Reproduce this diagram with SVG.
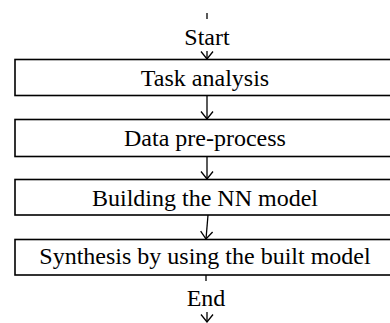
<svg xmlns="http://www.w3.org/2000/svg" width="390" height="323" viewBox="0 0 390 323">
<defs>
<style>
.box{fill:#fff;stroke:#000;stroke-width:1.6}
.lbl{font-family:"Liberation Serif","Times New Roman",serif;font-size:24px;fill:#000;text-anchor:middle}
.ln{stroke:#000;stroke-width:1.3;fill:none}
</style>
<marker id="ah" viewBox="0 0 10 14" refX="9" refY="7" markerWidth="10" markerHeight="14" markerUnits="userSpaceOnUse" orient="auto">
<path d="M1.5,1 L9,7 L1.5,13" fill="none" stroke="#000" stroke-width="1.3"/>
</marker>
</defs>
<rect width="390" height="323" fill="#fff"/>
<g id="connectors">
<line class="ln" x1="207" y1="13" x2="207" y2="19"/>
<line class="ln" x1="207" y1="51" x2="207" y2="59" marker-end="url(#ah)"/>
<line class="ln" x1="207" y1="95" x2="207" y2="119" marker-end="url(#ah)"/>
<line class="ln" x1="207" y1="157" x2="207" y2="179" marker-end="url(#ah)"/>
<line class="ln" x1="208" y1="215" x2="206" y2="239" marker-end="url(#ah)"/>
<line class="ln" x1="206" y1="275" x2="206" y2="281"/>
<line class="ln" x1="207" y1="312" x2="207" y2="322" marker-end="url(#ah)"/>
</g>
<g id="start"><text class="lbl" x="207" y="45">Start</text></g>
<g id="task"><rect class="box" x="15" y="59.5" width="390" height="36"/><text class="lbl" x="205" y="86">Task analysis</text></g>
<g id="data"><rect class="box" x="15" y="119.5" width="390" height="37"/><text class="lbl" x="205" y="146">Data pre-process</text></g>
<g id="build"><rect class="box" x="15" y="179.5" width="390" height="35.5"/><text class="lbl" x="205" y="206">Building the NN model</text></g>
<g id="synth"><rect class="box" x="15" y="239.5" width="390" height="35.5"/><text class="lbl" x="205" y="263.5">Synthesis by using the built model</text></g>
<g id="end"><text class="lbl" x="206" y="305.5">End</text></g>
</svg>
